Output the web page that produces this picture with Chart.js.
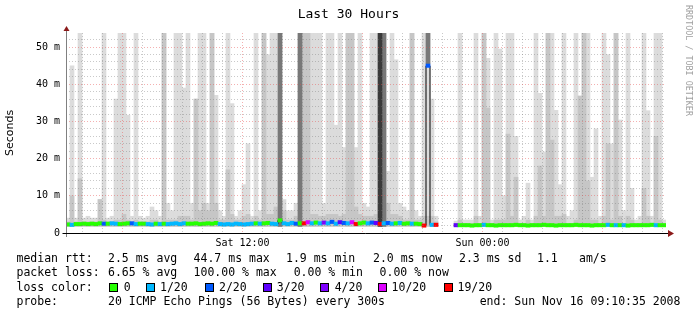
<!DOCTYPE html>
<html>
<head>
<meta charset="utf-8">
<script src="https://cdn.jsdelivr.net/npm/chart.js@4.4.0/dist/chart.umd.min.js"></script>
<style>
  body { margin: 0; background: #fff; }
  #wrap { position: relative; width: 697px; height: 316px; font-family: "DejaVu Sans Mono", monospace; }
  #chart { position: absolute; left: 0; top: 0; }
  .t { position: absolute; font-size: 11.5px; line-height: 14px; white-space: pre; color: #000; }
  .box { position: absolute; width: 7px; height: 7px; border: 1px solid #000; }
  #credit { position: absolute; left: 684px; top: 5px; writing-mode: vertical-rl; font-size: 8.4px; color: #a0a0a0; white-space: pre; }
</style>
</head>
<body>
<div id="wrap">
  <canvas id="chart" width="697" height="316"></canvas>
  <div id="credit">RRDTOOL / TOBI OETIKER</div>
  <div id="legend"></div>
</div>
<script>
// 30 hours split in 12 minute bins, start is Sat 03:10:35
const binHours = 0.2

// top of the light smoke (ms)
const smokeTop = [
  4, 45, 4, 53.8, 4, 4.5, 4, 4, 9, 53.8,
  4, 4.5, 36, 53.8, 53.8, 31.7, 4.5, 53.8, 4.5, 4,
  4.5, 7, 6, 4.5, 53.8, 8, 6, 53.8, 53.8, 39,
  53.8, 8, 36, 53.8, 53.8, 8, 53.8, 37, 6, 4.5,
  53.8, 34.8, 4.5, 6, 13, 24, 4.5, 53.8, 6, 53.8,
  48, 53.8, 53.8, 53.8, 9, 6, 6, 8, 53.8, 53.8,
  53.8, 53.8, 53.8, 53.8, 8, 53.8, 53.8, 29, 53.8, 23,
  53.8, 53.8, 23, 53.8, 8, 7, 53.8, 53.8, 53.8, 53.8,
  16.6, 53.8, 46.6, 8, 7, 6, 53.8, 6, 4.5, 53.8,
  53.8, 36, 4.5, null, null, null, null, 3.2, 53.8, 3.5,
  3.5, 3.5, 53.8, 4.5, 53.8, 47, 3.5, 53.8, 49.5, 10,
  53.8, 53.8, 26, 3.5, 4.5, 13.4, 3.5, 53.8, 37.6, 21.8,
  53.8, 53.8, 33, 13, 53.8, 4.5, 6, 53.8, 36.8, 53.8,
  53.8, 15, 28, 4.5, 53.8, 48, 24, 53.8, 30.4, 6,
  53.8, 12, 3.5, 4.5, 53.8, 32.9, 4.5, 53.8, 53.8, 3.5
]

// top of the denser (darker) smoke (ms)
const smokeMid = [
  3, 10, 3, 14.6, 3, 3, 3, 3, 9, 3.5,
  3, 3, 3.5, 3.5, 5, 3.5, 3, 3.5, 3, 3,
  3, 3.5, 3.5, 3, 53.8, 3.5, 3.5, 3.5, 4.5, 4.5,
  4.5, 3.5, 36, 6, 8, 6, 53.8, 8, 3.5, 3.5,
  17, 5, 3.5, 3.5, 4.5, 5, 3.5, 4.5, 3.5, 53.8,
  5, 5, 7, 6, 6, 3.5, 3.5, 4.5, 6, 53.8,
  53.8, 5, 5, 4.5, 4.5, 5, 5, 5, 4.5, 5,
  53.8, 53.8, 7, 5, 4.5, 4.5, 4.5, 5, 8, 8,
  8, 5, 5, 4.5, 3.5, 3.5, 53.8, 3.5, 3.5, 4.5,
  4.5, 4.5, 3, null, null, null, null, 2.6, 3.5, 2.6,
  2.6, 2.6, 4.5, 2.6, 53.8, 33.6, 2.6, 3.5, 3.5, 3.5,
  26.6, 4.5, 15, 2.6, 2.6, 3.5, 2.6, 4.5, 18, 4.5,
  53.8, 25, 4.5, 4.5, 5, 2.6, 2.6, 3.5, 36.8, 53.8,
  14, 3.5, 3.5, 2.6, 4.5, 24, 3.5, 53.8, 4.5, 2.6,
  4.5, 3.5, 2.6, 2.6, 12, 4.5, 2.6, 26, 3.5, 2.6
]

// bins with heavy loss (dark smoke)
const heavyLossBins = [53, 58, 79, 90]
const heavyLossLow = [1.8, 1.8, 1.8, 45.5]
const heavyLossHigh = [53.8, 53.8, 53.8, 53.8]
const totalLossBins = [78]
const totalLossHigh = [53.8]

// median rtt (ms)
const median = [
  2.3, 2.2, 2.4, 2.4, 2.5, 2.4, 2.5, 2.4, 2.6, 2.5,
  2.5, 2.6, 2.5, 2.4, 2.5, 2.6, 2.6, 2.4, 2.5, 2.5,
  2.4, 2.3, 2.5, 2.4, 2.5, 2.4, 2.5, 2.6, 2.4, 2.6,
  2.5, 2.5, 2.6, 2.4, 2.5, 2.6, 2.5, 2.7, 2.4, 2.3,
  2.4, 2.3, 2.5, 2.4, 2.3, 2.4, 2.5, 2.6, 2.5, 2.6,
  2.7, 2.5, 2.4, 3.4, 2.6, 2.4, 2.7, 2.5, 2.6, 2.6,
  2.9, 2.6, 2.8, 2.6, 2.8, 2.6, 3.0, 2.5, 2.9, 2.7,
  2.6, 2.9, 2.4, 2.6, 2.8, 2.6, 2.8, 2.7, 2.4, 2.6,
  2.7, 2.5, 2.6, 2.7, 2.5, 2.6, 2.5, 2.5, 2.4, 2.0,
  45, 2.2, 2.2, null, null, null, null, 2.1, 2.1, 2.1,
  2.1, 2.0, 2.1, 2.1, 2.2, 2.1, 2.1, 2.0, 2.1, 2.1,
  2.1, 2.1, 2.2, 2.1, 2.1, 2.0, 2.1, 2.1, 2.1, 2.2,
  2.1, 2.1, 2.0, 2.1, 2.1, 2.1, 2.1, 2.2, 2.1, 2.1,
  2.1, 2.0, 2.1, 2.1, 2.1, 2.2, 2.1, 2.1, 2.1, 2.1,
  2.0, 2.1, 2.1, 2.1, 2.1, 2.1, 2.2, 2.1, 2.1, 2.1
]

// loss class per bin, index into lossLabels
const lossLevel = [
  0, 1, 0, 0, 0, 0, 0, 0, 0, 2,
  0, 1, 1, 0, 0, 0, 2, 1, 0, 0,
  1, 1, 0, 1, 0, 1, 1, 1, 1, 1,
  0, 0, 0, 0, 0, 0, 0, 0, 1, 1,
  1, 1, 1, 1, 1, 1, 1, 0, 1, 0,
  0, 1, 1, 0, 1, 1, 1, 2, 0, 6,
  5, 1, 0, 1, 4, 1, 2, 1, 3, 2,
  1, 5, 6, 0, 0, 1, 2, 3, 6, 1,
  2, 1, 0, 1, 0, 0, 1, 0, 0, 6,
  2, 1, 6, null, null, null, null, 3, 0, 0,
  0, 0, 0, 0, 1, 0, 0, 0, 0, 0,
  0, 0, 0, 0, 0, 0, 0, 0, 0, 0,
  0, 0, 0, 0, 0, 0, 0, 0, 0, 0,
  0, 0, 0, 0, 0, 1, 0, 1, 0, 1,
  0, 0, 0, 0, 0, 0, 0, 1, 0, 0
]

const lossLabels = ["0", "1/20", "2/20", "3/20", "4/20", "10/20", "19/20"]
const lossColors = ["#26ff00", "#00b8ff", "#0059ff", "#5e00ff", "#7e00ff", "#dd00ff", "#ff0000"]

// axis ticks
const yTickValues = [0, 10, 20, 30, 40, 50]
const yTickLabels = ["0", "10 m", "20 m", "30 m", "40 m", "50 m"]
const hourGridStart = 0.824 // 04:00
const xTickHours = [8.824, 20.824]
const xTickLabels = ["Sat 12:00", "Sun 00:00"]

const smokeFloor = 1.8
const yMax = 53.8

const binX = i => (i + 0.5) * binHours
const ranges = (highs, low) => highs.map((h, i) => ({ x: binX(i), y: h == null ? null : [low, h] }))
const sparse = (bins, lows, highs) => bins.map((b, k) => ({ x: binX(b), y: [lows[k], highs[k]] }))

const hourTicks = []
for (let k = 0; k < 30; k++) hourTicks.push(hourGridStart + k)

const majorRed = "rgba(230, 80, 80, 0.45)"
const minorGray = "rgba(120, 120, 120, 0.4)"

// axis lines with the little rrdtool arrows
const axisArrows = {
  id: "axisArrows",
  afterDraw(chart) {
    const { ctx, chartArea: a } = chart
    const x0 = Math.round(a.left) + 0.5
    const y0 = Math.round(a.bottom) + 0.5
    ctx.save()
    ctx.lineWidth = 1
    ctx.strokeStyle = "#808080"
    ctx.beginPath()
    ctx.moveTo(x0, y0 + 3.5)
    ctx.lineTo(x0, a.top - 3)
    ctx.stroke()
    ctx.strokeStyle = "#000"
    ctx.beginPath()
    ctx.moveTo(x0 - 4, y0)
    ctx.lineTo(a.right + 2, y0)
    ctx.stroke()
    ctx.fillStyle = "#8b1a1a"
    ctx.beginPath()
    ctx.moveTo(x0 - 3, a.top - 2)
    ctx.lineTo(x0 + 3, a.top - 2)
    ctx.lineTo(x0, a.top - 7)
    ctx.closePath()
    ctx.fill()
    ctx.beginPath()
    ctx.moveTo(a.right + 2, y0 - 3.5)
    ctx.lineTo(a.right + 2, y0 + 3.5)
    ctx.lineTo(a.right + 8, y0)
    ctx.closePath()
    ctx.fill()
    ctx.restore()
  }
}

const tickFont = { family: "DejaVu Sans Mono", size: 10 }

new Chart(document.getElementById("chart").getContext("2d"), {
  type: "bar",
  data: {
    datasets: [
      { label: "smoke", data: ranges(smokeTop, smokeFloor), backgroundColor: "#dcdcdc", grouped: false, order: 6, barPercentage: 1, categoryPercentage: 1 },
      { label: "smoke dense", data: ranges(smokeMid, smokeFloor), backgroundColor: "#c6c6c6", grouped: false, order: 5, barPercentage: 1, categoryPercentage: 1 },
      { label: "heavy loss", data: sparse(heavyLossBins, heavyLossLow, heavyLossHigh), backgroundColor: "#787878", grouped: false, order: 4, barPercentage: 1, categoryPercentage: 1 },
      { label: "total loss", data: sparse(totalLossBins, [smokeFloor], totalLossHigh), backgroundColor: "#3a3a3a", grouped: false, order: 3, barPercentage: 1, categoryPercentage: 1 },
      {
        type: "line", label: "median", order: 2,
        data: median.map((m, i) => ({ x: binX(i), y: m })),
        borderColor: "#000", borderWidth: 1, pointRadius: 0, stepped: "middle", spanGaps: false
      },
      {
        label: "loss", order: 1, grouped: false, barPercentage: 1, categoryPercentage: 1,
        data: median.map((m, i) => ({ x: binX(i), y: m == null ? null : [m - 0.45, m + 0.45] })),
        backgroundColor: c => lossColors[lossLevel[c.dataIndex]] || "transparent"
      }
    ]
  },
  options: {
    responsive: false,
    animation: false,
    devicePixelRatio: 1,
    layout: { padding: 0 },
    plugins: {
      legend: { display: false },
      tooltip: { enabled: false },
      title: {
        display: true,
        text: "Last 30 Hours",
        color: "#000",
        font: { family: "DejaVu Sans Mono", size: 13, weight: "normal" },
        padding: { top: 6.5, bottom: 10.9 }
      }
    },
    scales: {
      x: {
        type: "linear",
        min: 0,
        max: 30,
        offset: false,
        afterFit: s => { s.height = 83 },
        afterBuildTicks: s => { s.ticks = hourTicks.map(v => ({ value: v })) },
        ticks: {
          autoSkip: false,
          maxRotation: 0,
          padding: 4,
          color: "#000",
          font: tickFont,
          callback: v => {
            const k = xTickHours.findIndex(h => Math.abs(h - v) < 0.01)
            return k < 0 ? "" : xTickLabels[k]
          }
        },
        grid: {
          offset: false,
          drawTicks: false,
          z: 1,
          color: c => (Math.round(c.tick.value - hourGridStart) % 6 === 2 ? majorRed : minorGray)
        },
        border: { display: false, dash: [1, 2] }
      },
      y: {
        min: 0,
        max: yMax,
        afterFit: s => { s.width = 66 },
        afterBuildTicks: s => {
          const t = []
          for (let v = 0; v <= 52; v += 2) t.push({ value: v })
          s.ticks = t
        },
        ticks: {
          autoSkip: false,
          padding: 6,
          color: "#000",
          font: tickFont,
          callback: v => {
            const k = yTickValues.indexOf(v)
            return k < 0 ? "" : yTickLabels[k]
          }
        },
        grid: {
          drawTicks: false,
          z: 1,
          color: c => (c.tick.value % 10 === 0 ? majorRed : minorGray)
        },
        border: { display: false, dash: [1, 2] },
        title: {
          display: true,
          text: "Seconds",
          color: "#000",
          font: { family: "DejaVu Sans", size: 11 },
          padding: { top: 4, bottom: 0 }
        }
      },
      right: {
        position: "right",
        display: true,
        afterFit: s => { s.width = 31 },
        ticks: { display: false },
        grid: { display: false },
        border: { display: false }
      }
    }
  },
  plugins: [axisArrows]
})

// legend block under the graph
const legendRows = [
  { top: 250.5, items: [[16.5, "median rtt:"], [108, "2.5 ms avg"], [193.6, "44.7 ms max"], [286, "1.9 ms min"], [373, "2.0 ms now"], [459, "2.3 ms sd"], [537, "1.1"], [579, "am/s"]] },
  { top: 265, items: [[16.5, "packet loss:"], [108, "6.65 % avg"], [193.6, "100.00 % max"], [293.7, "0.00 % min"], [379.6, "0.00 % now"]] },
  { top: 279.5, items: [[16.5, "loss color:"]] },
  { top: 294, items: [[16.5, "probe:"], [108, "20 ICMP Echo Pings (56 Bytes) every 300s"], [479.7, "end: Sun Nov 16 09:10:35 2008"]] }
]
const lossBoxX = [109, 146, 204.7, 262.6, 320.4, 378.3, 443.7]
const lossTextX = [123.7, 160, 219, 276.8, 334.7, 391.6, 457.5]

const legend = document.getElementById("legend")
legendRows.forEach(row => {
  row.items.forEach(([x, text]) => {
    const d = document.createElement("div")
    d.className = "t"
    d.style.left = x + "px"
    d.style.top = row.top + "px"
    d.textContent = text
    legend.appendChild(d)
  })
})
lossLabels.forEach((label, i) => {
  const b = document.createElement("div")
  b.className = "box"
  b.style.left = lossBoxX[i] + "px"
  b.style.top = "283px"
  b.style.background = lossColors[i]
  legend.appendChild(b)
  const d = document.createElement("div")
  d.className = "t"
  d.style.left = lossTextX[i] + "px"
  d.style.top = "279.5px"
  d.textContent = label
  legend.appendChild(d)
})
</script>
</body>
</html>
